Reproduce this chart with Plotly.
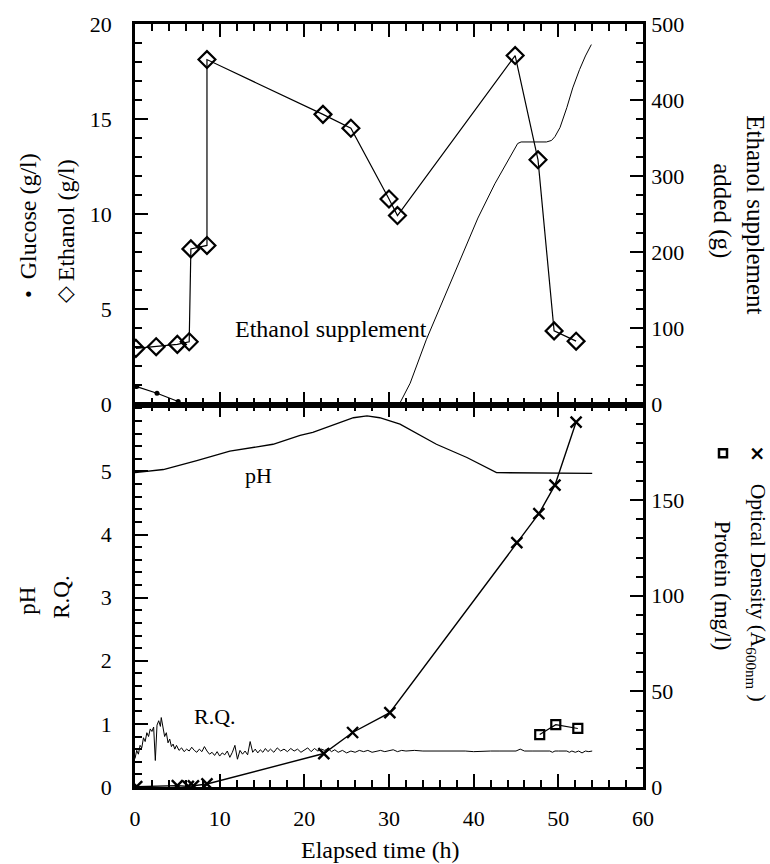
import plotly.graph_objects as go

# ---------------- data ----------------
glucose_t = [0.2, 2.6, 5.1]
glucose_v = [0.94, 0.59, 0.16]

ethanol_t = [0.1, 2.5, 5.0, 6.4, 6.6, 8.5, 8.5, 22.2, 25.5, 30.0, 31.0, 44.9, 47.6, 49.5, 52.1]
ethanol_v = [2.95, 3.04, 3.16, 3.3, 8.18, 8.36, 18.13, 15.25, 14.52, 10.8, 9.93, 18.34, 12.86, 3.87, 3.33]

supp_t = [31.2, 32.5, 34.4, 36.5, 38.5, 40.5, 42.5, 44.3, 45.2, 45.6, 48.6, 49.2, 49.6, 50.2, 51.0, 51.7, 52.5, 53.2, 53.9]
supp_v = [0, 28, 85, 140, 192, 245, 290, 325, 343, 345, 345, 347, 352, 364, 390, 416, 440, 458, 473]

ph_t = [0.0, 3.35, 7.3, 11.2, 16.3, 19.5, 21.0, 24.0, 25.8, 27.4, 28.9, 31.3, 33.5, 35.6, 39.2, 41.0, 42.7, 54.0]
ph_v = [4.98, 5.03, 5.17, 5.32, 5.43, 5.57, 5.62, 5.76, 5.85, 5.88, 5.85, 5.75, 5.58, 5.43, 5.22, 5.10, 4.98, 4.97]

rq_t = [0.0, 0.2, 0.4, 0.6, 0.8, 1.0, 1.2, 1.4, 1.6, 1.8,
        2.0, 2.2, 2.4, 2.5, 2.6, 2.8, 3.0, 3.1, 3.3, 3.5,
        3.7, 3.9, 4.1, 4.3, 4.5, 4.7, 4.9, 5.2, 5.5, 5.8,
        6.1, 6.4, 6.7, 7.0, 7.3, 7.6, 7.9, 8.2, 8.5, 8.8,
        9.1, 9.4, 9.7, 10.0, 10.3, 10.6, 10.9, 11.2, 11.5, 11.8,
        12.1, 12.4, 12.7, 13.0, 13.3, 13.6, 13.9, 14.2, 14.5, 14.8,
        15.1, 15.4, 15.7, 16.0, 16.4, 16.8, 17.2, 17.6, 18.0, 18.4,
        18.8, 19.2, 19.6, 20.0, 20.4, 20.8, 21.2, 21.6, 22.0, 22.4,
        22.8, 23.2, 23.6, 24.0, 24.5, 25.0, 25.5, 26.0, 26.5, 27.0,
        27.5, 28.0, 28.5, 29.0, 29.5, 30.0, 30.5, 31.0, 31.5, 32.0,
        33.0, 34.0, 35.0, 36.0, 37.0, 38.0, 39.0, 40.0, 41.0, 42.0,
        43.0, 44.0, 45.0, 45.5, 46.0, 47.0, 48.0, 49.0, 49.3, 49.6,
        50.0, 50.5, 51.0, 51.3, 51.6, 52.0, 52.4, 52.8, 53.2, 53.6,
        54.0]
rq_v = [0.45, 0.58, 0.52, 0.66, 0.62, 0.78, 0.72, 0.86, 0.80, 0.92,
        0.88, 0.95, 0.42, 0.90, 0.98, 1.05, 0.96, 1.10, 0.92, 0.80,
        0.86, 0.70, 0.76, 0.64, 0.68, 0.60, 0.66, 0.58, 0.62, 0.56,
        0.60, 0.57, 0.63, 0.58, 0.55, 0.60, 0.56, 0.64, 0.57, 0.52,
        0.55, 0.50, 0.56, 0.49, 0.54, 0.51, 0.57, 0.47, 0.55, 0.66,
        0.44, 0.58, 0.52, 0.57, 0.51, 0.72, 0.55, 0.60, 0.54, 0.59,
        0.55, 0.61, 0.56, 0.60, 0.55, 0.62, 0.57, 0.60, 0.56, 0.61,
        0.57, 0.60, 0.55, 0.59, 0.62, 0.56, 0.61, 0.57, 0.60, 0.58,
        0.61, 0.56, 0.59, 0.55, 0.58, 0.54, 0.57, 0.55, 0.58, 0.56,
        0.58, 0.55, 0.57, 0.58, 0.56, 0.57, 0.59, 0.56, 0.58, 0.57,
        0.58, 0.57, 0.57, 0.57, 0.58, 0.57, 0.57, 0.56, 0.57, 0.57,
        0.57, 0.57, 0.57, 0.60, 0.57, 0.57, 0.57, 0.57, 0.55, 0.57,
        0.57, 0.57, 0.57, 0.55, 0.57, 0.55, 0.57, 0.54, 0.57, 0.56,
        0.57]

od_t = [0.2, 5.0, 6.3, 6.9, 8.5, 22.3, 25.7, 30.1, 45.1, 47.7, 49.6, 52.1]
od_v = [0.2, 0.7, 0.3, 0.6, 1.6, 17.5, 28.5, 38.9, 127.8, 142.9, 157.8, 190.8]

protein_t = [47.8, 49.7, 52.3]
protein_v = [27.4, 32.6, 30.6]

x_ticks = [0, 10, 20, 30, 40, 50, 60]
top_left_ticks = [0, 5, 10, 15, 20]
top_right_ticks = [0, 100, 200, 300, 400, 500]
bot_left_ticks = [0, 1, 2, 3, 4, 5]
bot_right_ticks = [0, 50, 100, 150]

# ---------------- figure ----------------
FONT = "Liberation Serif"
BLK = "black"
split = 384 / 766
L, B, W, H = 135, 787, 508, 766   # plot-area pixel frame used to place titles


def px(xp):
    return (xp - L) / W


def py(yp):
    return (B - yp) / H


fig = go.Figure()

fig.add_trace(go.Scatter(x=glucose_t, y=glucose_v, xaxis="x2", yaxis="y3", mode="lines+markers",
                         line=dict(color=BLK, width=1.2), marker=dict(symbol="circle", size=5, color=BLK)))
fig.add_trace(go.Scatter(x=ethanol_t, y=ethanol_v, xaxis="x2", yaxis="y3", mode="lines+markers",
                         line=dict(color=BLK, width=1.2),
                         marker=dict(symbol="diamond-open", size=13, color=BLK, line=dict(width=2.2, color=BLK))))
fig.add_trace(go.Scatter(x=supp_t, y=supp_v, xaxis="x2", yaxis="y4", mode="lines",
                         line=dict(color=BLK, width=1)))
fig.add_trace(go.Scatter(x=ph_t, y=ph_v, xaxis="x", yaxis="y", mode="lines",
                         line=dict(color=BLK, width=1.3)))
fig.add_trace(go.Scatter(x=rq_t, y=rq_v, xaxis="x", yaxis="y", mode="lines",
                         line=dict(color=BLK, width=1)))
fig.add_trace(go.Scatter(x=od_t, y=od_v, xaxis="x", yaxis="y2", mode="lines+markers",
                         line=dict(color=BLK, width=1.4),
                         marker=dict(symbol="x-thin-open", size=11, color=BLK, line=dict(width=2.4, color=BLK))))
fig.add_trace(go.Scatter(x=protein_t, y=protein_v, xaxis="x", yaxis="y2", mode="lines+markers",
                         line=dict(color=BLK, width=1.2),
                         marker=dict(symbol="square-open", size=9, color=BLK, line=dict(width=2.2, color=BLK))))

tick_common = dict(ticks="inside", ticklen=13, tickwidth=2, tickcolor=BLK, showline=True, linewidth=2.5,
                   linecolor=BLK, showgrid=False, zeroline=False, tickfont=dict(family=FONT, size=22, color=BLK))


def minor(d):
    return dict(ticks="inside", ticklen=7, tickwidth=2, tickcolor=BLK, tickmode="linear", tick0=0, dtick=d,
                showgrid=False)


fig.update_layout(
    width=770, height=864,
    margin=dict(l=135, r=127, t=21, b=77),
    paper_bgcolor="white", plot_bgcolor="white",
    showlegend=False,
    font=dict(family=FONT, size=22, color=BLK),
    xaxis=dict(domain=[0, 1], anchor="y", range=[0, 60], tickmode="array", tickvals=x_ticks,
               mirror="ticks", minor=minor(2), ticklabelstandoff=10, **tick_common),
    xaxis2=dict(domain=[0, 1], anchor="y3", range=[0, 60], tickmode="array", tickvals=x_ticks,
                mirror="ticks", showticklabels=False, minor=minor(2), **tick_common),
    yaxis=dict(domain=[0, split], anchor="x", range=[0, 6.06], tickmode="array", tickvals=bot_left_ticks,
               minor=minor(0.2), ticklabelstandoff=16, **tick_common),
    yaxis2=dict(overlaying="y", side="right", anchor="x", range=[0, 200], tickmode="array",
                tickvals=bot_right_ticks, minor=minor(10), ticklabelstandoff=1, **tick_common),
    yaxis3=dict(domain=[split, 1], anchor="x2", range=[0, 20], tickmode="array", tickvals=top_left_ticks,
                minor=minor(1), ticklabelstandoff=16, **tick_common),
    yaxis4=dict(overlaying="y3", side="right", anchor="x2", range=[0, 500], tickmode="array",
                tickvals=top_right_ticks, minor=minor(25), ticklabelstandoff=1, **tick_common),
)


def pa(text, xp, yp, angle, size=24, family=FONT):
    fig.add_annotation(text=text, x=px(xp), y=py(yp), xref="paper", yref="paper", textangle=angle,
                       showarrow=False, xanchor="center", yanchor="middle",
                       font=dict(family=family, size=size, color=BLK))


# left titles (top panel)
pa("Glucose (g/l)", 28, 214, -90, 24)
pa("•", 29, 292, -90, 22)
pa("Ethanol (g/l)", 66, 218, -90, 24)
pa("<b>◇</b>", 65, 293, -90, 22, "DejaVu Sans")
# right titles (top panel)
pa("Ethanol supplement", 756, 212, 90, 25)
pa("added (g)", 722, 208, 90, 25)
# left titles (bottom panel)
pa("pH", 28, 600, -90, 23)
pa("R.Q.", 62, 597, -90, 23)
# right titles (bottom panel)
pa("Optical Density (A<sub>600nm</sub> )", 756, 592, 90, 21.5)
pa("<b>×</b>", 758, 452, 90, 20, "DejaVu Sans")
pa("Protein (mg/l)", 722, 585, 90, 23)
fig.add_shape(type="rect", xref="paper", yref="paper",
              x0=px(719), x1=px(727), y0=py(456), y1=py(448),
              line=dict(color=BLK, width=2.5), fillcolor="white")
# x title
pa("Elapsed time (h)", 380, 850, 0, 24)


def da(text, x, y, xr, yr, size=22):
    fig.add_annotation(text=text, x=x, y=y, xref=xr, yref=yr, showarrow=False,
                       xanchor="center", yanchor="middle", font=dict(family=FONT, size=size, color=BLK))


da("Ethanol supplement", 23.1, 3.98, "x2", "y3", 24)
da("pH", 14.6, 4.93, "x", "y")
da("R.Q.", 9.45, 1.11, "x", "y")

fig.write_html("out.html")
